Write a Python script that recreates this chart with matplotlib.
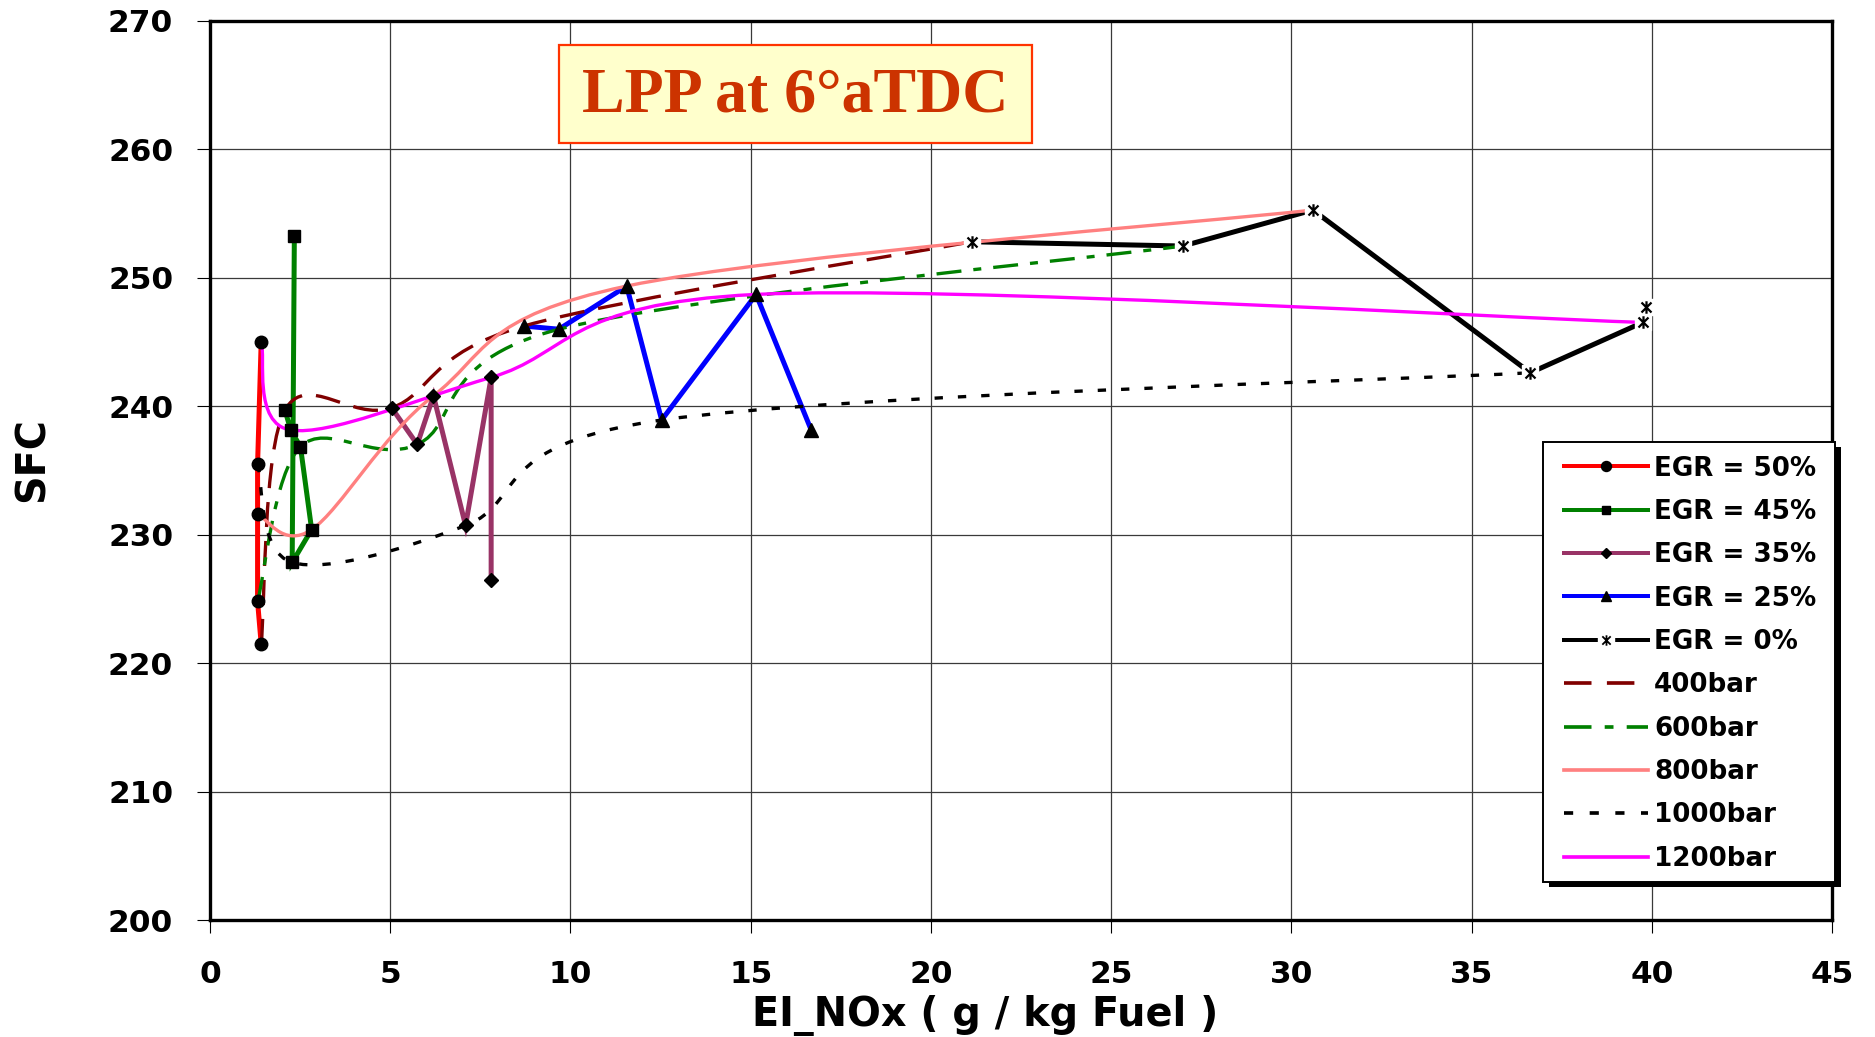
import numpy as np
import matplotlib
matplotlib.use("Agg")
import matplotlib.pyplot as plt
from matplotlib.path import Path
from matplotlib.patches import PathPatch, Rectangle
from matplotlib.lines import Line2D

# ---- data: SFC vs EI_NOx -------------------------------------------------
# constant-EGR series (points ordered 400 -> 1200 bar injection pressure)
egr50_x = [1.42, 1.32, 1.32, 1.32, 1.42]
egr50_y = [221.5, 224.8, 231.6, 235.5, 245.0]

egr45_x = [2.08, 2.24, 2.51, 2.82, 2.28, 2.34]
egr45_y = [239.7, 238.15, 236.85, 230.4, 227.84, 253.26]

egr35_x = [5.04, 5.75, 6.20, 7.09, 7.80, 7.80]
egr35_y = [239.88, 237.03, 240.82, 230.72, 242.25, 226.46]

egr25_x = [8.71, 9.68, 11.56, 12.53, 15.15, 16.68]
egr25_y = [246.25, 246.0, 249.36, 238.93, 248.71, 238.15]

egr0_x = [21.13, 26.99, 30.60, 36.63, 39.75, 39.84]
egr0_y = [252.81, 252.48, 255.28, 242.61, 246.53, 247.75]

# constant injection pressure series (points ordered EGR 50 -> 0 %)
p400_x = [1.42, 2.08, 5.04, 8.71, 21.13]
p400_y = [221.5, 239.7, 239.88, 246.25, 252.81]

p600_x = [1.32, 2.51, 5.75, 9.68, 26.99]
p600_y = [224.8, 236.85, 237.03, 246.0, 252.48]

p800_x = [1.32, 2.82, 6.20, 11.56, 30.60]
p800_y = [231.6, 230.4, 240.82, 249.36, 255.28]

p1000_x = [1.32, 2.28, 7.09, 12.53, 36.63]
p1000_y = [235.5, 227.84, 230.72, 238.93, 242.61]

p1200_x = [1.42, 2.24, 7.80, 15.15, 39.75]
p1200_y = [245.0, 238.15, 242.25, 248.71, 246.53]

x_ticks = [0, 5, 10, 15, 20, 25, 30, 35, 40, 45]
y_ticks = [200, 210, 220, 230, 240, 250, 260, 270]

egr_labels = ["EGR = 50%", "EGR = 45%", "EGR = 35%", "EGR = 25%", "EGR = 0%"]
bar_labels = ["400bar", "600bar", "800bar", "1000bar", "1200bar"]

# ---- styling ---------------------------------------------------------------
BOLD = dict(family="DejaVu Sans", weight="bold")
W, H, DPI = 1875, 1037, 100

fig = plt.figure(figsize=(W / DPI, H / DPI), dpi=DPI)
ax = fig.add_axes([210 / W, 1 - 920 / H, (1832 - 210) / W, (920 - 21) / H])

ax.set_xlim(0, 45)
ax.set_ylim(200, 270)
ax.set_xticks(x_ticks)
ax.set_yticks(y_ticks)
ax.grid(True, color="#3a3a3a", lw=0.9, zorder=0)
ax.set_axisbelow(True)
for s in ax.spines.values():
    s.set_linewidth(2.4)
    s.set_color("black")
ax.tick_params(axis="x", length=9, width=0.8, pad=20, labelsize=22.4)
ax.tick_params(axis="y", length=9.5, width=0.8, pad=17, labelsize=22.4)
for lab in ax.get_xticklabels() + ax.get_yticklabels():
    lab.set_fontweight("bold")
    lab.set_family("DejaVu Sans")

# asterisk-style marker (x with a vertical stroke)
star = Path([(-1, -1), (1, 1), (-1, 1), (1, -1), (0, -1.25), (0, 1.25)],
            [Path.MOVETO, Path.LINETO, Path.MOVETO, Path.LINETO,
             Path.MOVETO, Path.LINETO])

EGR_LW = 3.6
egr_series = [
    (egr50_x, egr50_y, "#FF0000", "o", 9.0),
    (egr45_x, egr45_y, "#008000", "s", 8.0),
    (egr35_x, egr35_y, "#993366", "D", 7.0),
    (egr25_x, egr25_y, "#0000FF", "^", 9.5),
]
for xs, ys, c, m, ms in egr_series:
    ax.plot(xs, ys, color=c, lw=EGR_LW, zorder=2, solid_joinstyle="miter")
    ax.plot(xs, ys, ls="none", marker=m, ms=ms, mfc="black", mec="black",
            zorder=5)

ax.plot(egr0_x, egr0_y, color="black", lw=EGR_LW, zorder=2)
ax.plot(egr0_x, egr0_y, ls="none", marker="s", ms=12, mfc="white",
        mec="white", zorder=4)
ax.plot(egr0_x, egr0_y, ls="none", marker=star, ms=9, mec="black",
        mew=1.6, zorder=5)


def smooth_path(xs, ys):
    """Smoothed line through the points, as cubic Bezier segments."""
    pts = np.column_stack([xs, ys]).astype(float)
    n = len(pts)
    verts = [pts[0]]
    codes = [Path.MOVETO]
    for i in range(n - 1):
        p0 = pts[max(i - 1, 0)]
        p1 = pts[i]
        p2 = pts[i + 1]
        p3 = pts[min(i + 2, n - 1)]
        verts += [p1 + (p2 - p0) / 6.0, p2 - (p3 - p1) / 6.0, p2]
        codes += [Path.CURVE4] * 3
    return Path(verts, codes)


P_LW = 2.4
dash400 = (0, (7.5, 4.2))
dash600 = (0, (7.5, 3.6, 2.4, 3.6))
dot1000 = (0, (2.5, 4.5))
pressure_series = [
    (p400_x, p400_y, "#800000", dash400),
    (p600_x, p600_y, "#008000", dash600),
    (p800_x, p800_y, "#FF8080", "solid"),
    (p1000_x, p1000_y, "black", dot1000),
    (p1200_x, p1200_y, "#FF00FF", "solid"),
]
for xs, ys, c, ls in pressure_series:
    patch = PathPatch(smooth_path(xs, ys), fill=False, edgecolor=c, lw=P_LW,
                      linestyle=ls, capstyle="butt", zorder=3)
    ax.add_patch(patch)

# ---- title box -------------------------------------------------------------
bx0, bx1, by0, by1 = 559, 1032, 45, 143
ax.add_patch(Rectangle((bx0 / W, 1 - by1 / H), (bx1 - bx0) / W, (by1 - by0) / H,
                       transform=fig.transFigure, facecolor="#FFFFCC",
                       edgecolor="#FF3300", lw=1.6, zorder=6, clip_on=False))
ax.text((bx0 + bx1) / 2 / W, 1 - (by0 + by1) / 2 / H - 0.002, "LPP at 6°aTDC",
        transform=fig.transFigure, ha="center", va="center",
        family="Liberation Serif", weight="bold", fontsize=46,
        color="#CC3300", zorder=7)

# ---- axis labels -------------------------------------------------------------
fig.text(985 / W, 1 - 1016 / H, "EI_NOx ( g / kg Fuel )", ha="center",
         va="center", fontsize=28.6, **BOLD)
fig.text(33 / W, 1 - 460 / H, "SFC", ha="center", va="center", rotation=90,
         fontsize=28.6, **BOLD)

# ---- legend ------------------------------------------------------------------
handles = []
for (xs, ys, c, m, ms) in egr_series:
    handles.append(Line2D([], [], color=c, lw=EGR_LW * 0.8, marker=m,
                          ms=ms * 0.8, mfc="black", mec="black"))
handles.append((Line2D([], [], color="black", lw=EGR_LW * 0.8, marker="s",
                       ms=11, mfc="white", mec="white"),
                Line2D([], [], ls="none", marker=star, ms=7.5, mec="black",
                       mew=1.3)))
for xs, ys, c, ls in pressure_series:
    handles.append(Line2D([], [], color=c, lw=P_LW * 1.1, ls=ls))

# legend box with a solid drop shadow
lx0, lx1, ly0, ly1 = 1543, 1835, 442, 882
ax.add_patch(Rectangle(((lx0 + 6) / W, 1 - (ly1 + 5) / H), (lx1 - lx0) / W,
                       (ly1 - ly0) / H, transform=fig.transFigure,
                       facecolor="black", edgecolor="none", zorder=7.8,
                       clip_on=False))
ax.add_patch(Rectangle((lx0 / W, 1 - ly1 / H), (lx1 - lx0) / W,
                       (ly1 - ly0) / H, transform=fig.transFigure,
                       facecolor="white", edgecolor="black", lw=1.4,
                       zorder=7.9, clip_on=False))

leg = ax.legend(handles, egr_labels + bar_labels, loc="upper left",
                bbox_to_anchor=(1564 / W, 1 - 455.5 / H),
                bbox_transform=fig.transFigure, borderaxespad=0,
                prop=dict(family="DejaVu Sans", weight="bold", size=18.8),
                handlelength=3.2, handletextpad=0.25, labelspacing=0.665,
                borderpad=0, frameon=False, numpoints=1)
leg.set_zorder(8)

fig.savefig("out.png", dpi=DPI)
